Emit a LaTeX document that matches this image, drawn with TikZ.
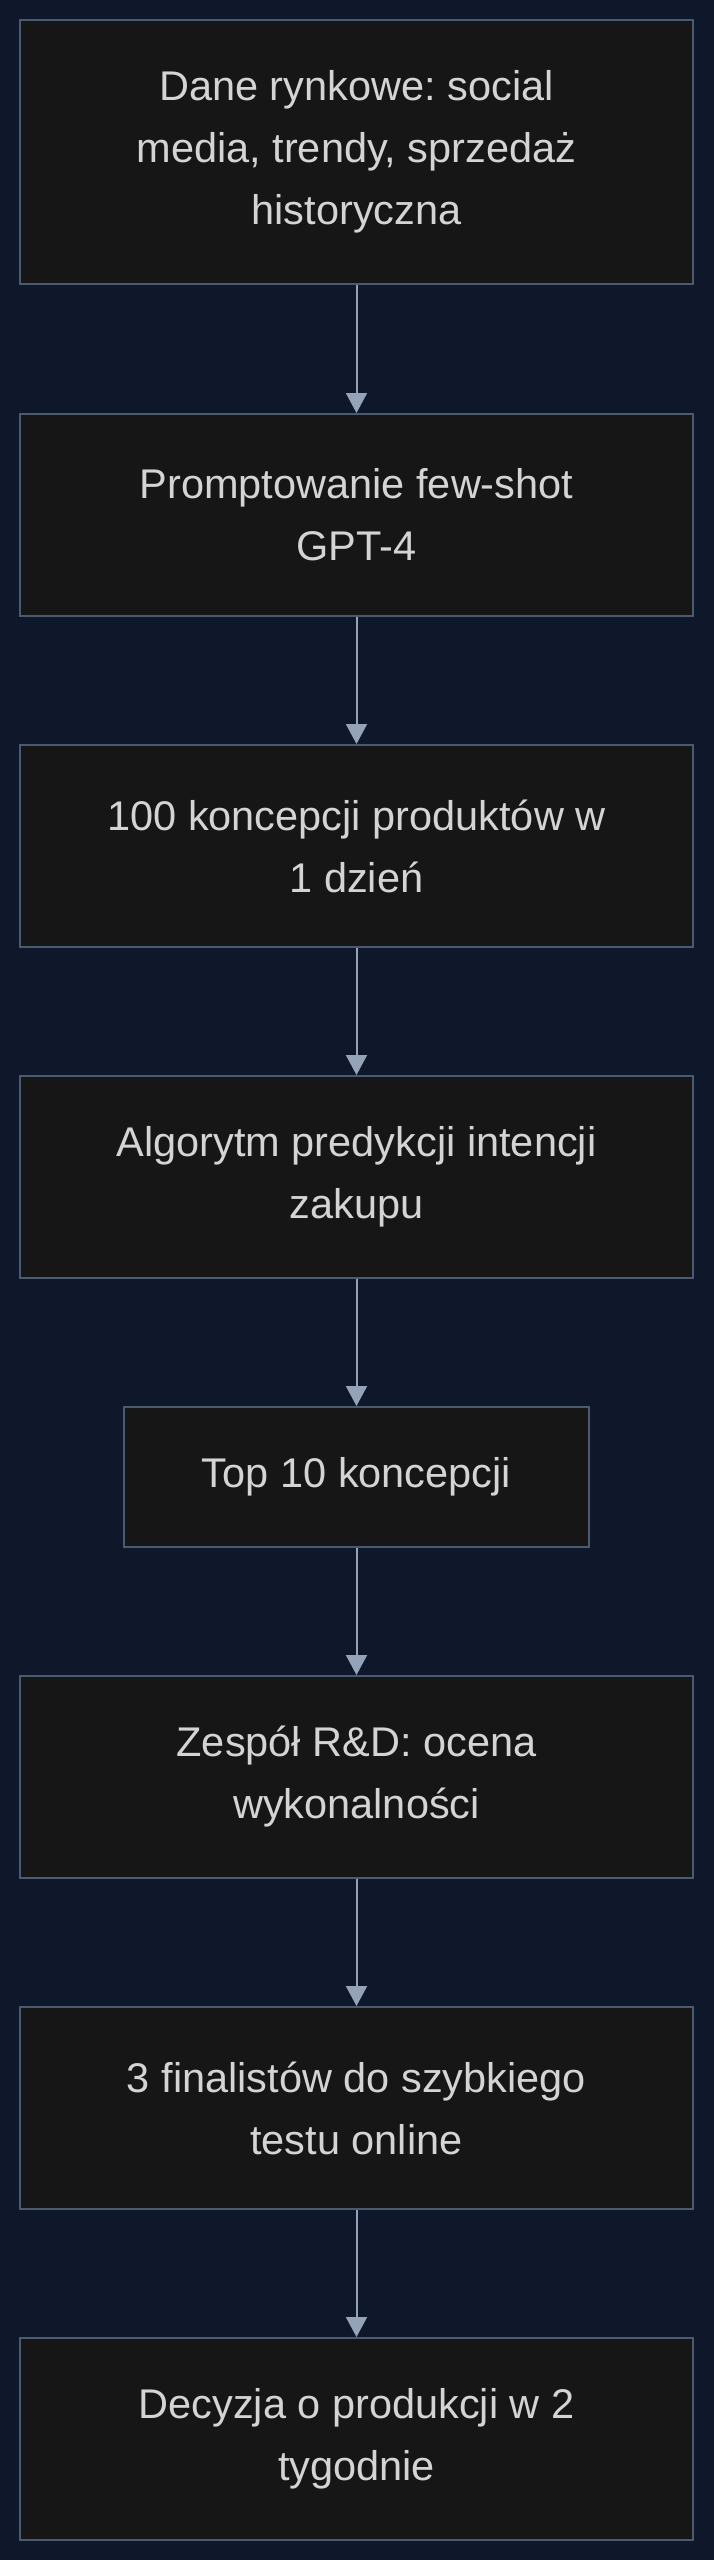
\documentclass[tikz,border=0pt]{standalone}
\usepackage{fontspec}
\setmainfont{Liberation Sans}
\usetikzlibrary{arrows.meta}
\definecolor{bgc}{HTML}{0F172A}
\definecolor{boxfill}{HTML}{161616}
\definecolor{boxline}{HTML}{4A5A70}
\definecolor{arrowc}{HTML}{94A3B8}
\definecolor{txtc}{HTML}{D4D4D4}
\frenchspacing
\tikzset{
  flowbox/.style={draw=boxline, fill=boxfill, line width=2pt, inner sep=0pt,
    minimum width=673pt, minimum height=202pt, align=center, text=txtc,
    font=\fontsize{41.5}{62}\selectfont},
  flowarrow/.style={draw=arrowc, line width=2pt, -{Triangle[width=21pt,length=20pt]}}
}
\begin{document}
\begin{tikzpicture}[x=1pt,y=-1pt]
\fill[bgc] (0,0) rectangle (714,2560);
\useasboundingbox (0,0) rectangle (714,2560);
\node[flowbox, minimum height=264pt] (a) at (356.5,152) {Dane rynkowe: social\\media, trendy, sprzedaż\\historyczna};
\node[flowbox] (b) at (356.5,515) {Promptowanie few-shot\\GPT-4};
\node[flowbox] (c) at (356.5,846) {100 koncepcji produktów w\\1 dzień};
\node[flowbox] (d) at (356.5,1177) {Algorytm predykcji intencji\\zakupu};
\node[flowbox, minimum width=465pt, minimum height=140pt] (e) at (356.5,1477) {Top 10 koncepcji};
\node[flowbox] (f) at (356.5,1777) {Zespół R\&D: ocena\\wykonalności};
\node[flowbox] (g) at (356.5,2108) {3 finalistów do szybkiego\\testu online};
\node[flowbox] (h) at (356.5,2439) {Decyzja o produkcji w 2\\tygodnie};
\draw[flowarrow] (a) -- (b);
\draw[flowarrow] (b) -- (c);
\draw[flowarrow] (c) -- (d);
\draw[flowarrow] (d) -- (e);
\draw[flowarrow] (e) -- (f);
\draw[flowarrow] (f) -- (g);
\draw[flowarrow] (g) -- (h);
\end{tikzpicture}
\end{document}
